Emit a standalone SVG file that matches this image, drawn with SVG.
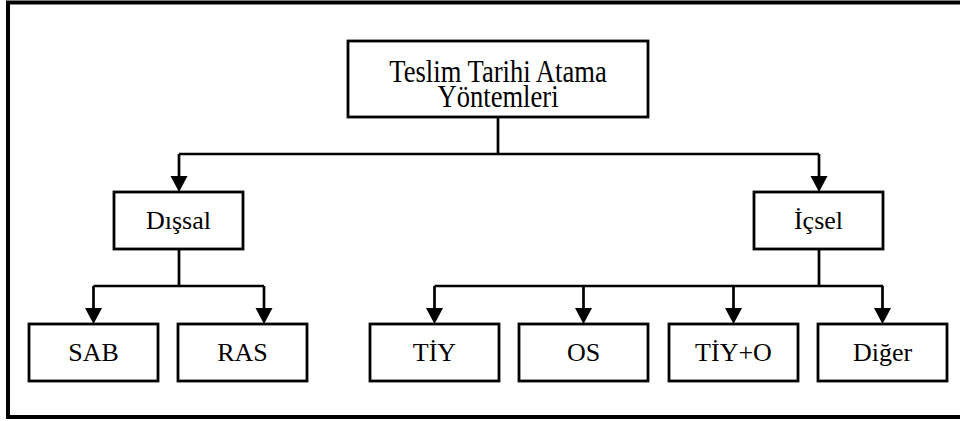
<svg xmlns="http://www.w3.org/2000/svg" width="960" height="421" viewBox="0 0 960 421">
  <style>
    .box { fill: #fff; stroke: #000; stroke-width: 2.8; }
    .lbl { font-family: "Liberation Serif", "Times New Roman", "DejaVu Serif", serif; font-size: 26px; fill: #000; text-anchor: middle; }
    .wire { fill: none; stroke: #000; stroke-width: 2.7; stroke-linejoin: miter; }
    .head { fill: #000; stroke: none; }
  </style>
  <rect width="960" height="421" fill="#fff"/>
  <!-- outer frame (open on the right) -->
  <path d="M964,2.5 H8 V417 H964" fill="none" stroke="#000" stroke-width="4"/>

  <g id="connectors">
    <!-- root to first level -->
    <path class="wire" d="M498,117 V154 M179,154 H819 M179,154 V176 M819,154 V176"/>
    <polygon class="head" points="170.5,176 187.5,176 179,192"/>
    <polygon class="head" points="810.5,176 827.5,176 819,192"/>
    <!-- Dışsal branch -->
    <path class="wire" d="M179,249 V286 M93.5,286 H264 M93.5,286 V308 M264,286 V308"/>
    <polygon class="head" points="85,308 102,308 93.5,324"/>
    <polygon class="head" points="255.5,308 272.5,308 264,324"/>
    <!-- İçsel branch -->
    <path class="wire" d="M819,249 V286 M434.5,286 H883 M434.5,286 V308 M583.5,286 V308 M733.5,286 V308 M882.5,286 V308"/>
    <polygon class="head" points="426,308 443,308 434.5,324"/>
    <polygon class="head" points="575,308 592,308 583.5,324"/>
    <polygon class="head" points="725,308 742,308 733.5,324"/>
    <polygon class="head" points="874,308 891,308 882.5,324"/>
  </g>

  <g id="root">
    <rect class="box" x="348" y="41" width="300" height="76"/>
    <g transform="translate(498,0) scale(1,1.2)">
      <text class="lbl" x="0" y="68.3" style="font-size:26.6px">Teslim Tarihi Atama</text>
      <text class="lbl" x="0" y="89.2" style="font-size:26.6px">Yöntemleri</text>
    </g>
  </g>

  <g id="disal">
    <rect class="box" x="114" y="192" width="129" height="57"/>
    <text class="lbl" x="178.5" y="228.5">Dışsal</text>
  </g>
  <g id="icsel">
    <rect class="box" x="754" y="192" width="129" height="57"/>
    <text class="lbl" x="818.5" y="228.5">İçsel</text>
  </g>

  <g id="sab">
    <rect class="box" x="29" y="324" width="129" height="57"/>
    <text class="lbl" x="93.5" y="360.5">SAB</text>
  </g>
  <g id="ras">
    <rect class="box" x="178" y="324" width="129" height="57"/>
    <text class="lbl" x="242.5" y="360.5">RAS</text>
  </g>
  <g id="tiy">
    <rect class="box" x="370" y="324" width="129" height="57"/>
    <text class="lbl" x="434.5" y="360.5">TİY</text>
  </g>
  <g id="os">
    <rect class="box" x="519" y="324" width="129" height="57"/>
    <text class="lbl" x="583.5" y="360.5">OS</text>
  </g>
  <g id="tiy-o">
    <rect class="box" x="669" y="324" width="129" height="57"/>
    <text class="lbl" x="733.5" y="360.5">TİY+O</text>
  </g>
  <g id="diger">
    <rect class="box" x="818" y="324" width="129" height="57"/>
    <text class="lbl" x="882.5" y="360.5">Diğer</text>
  </g>
</svg>
